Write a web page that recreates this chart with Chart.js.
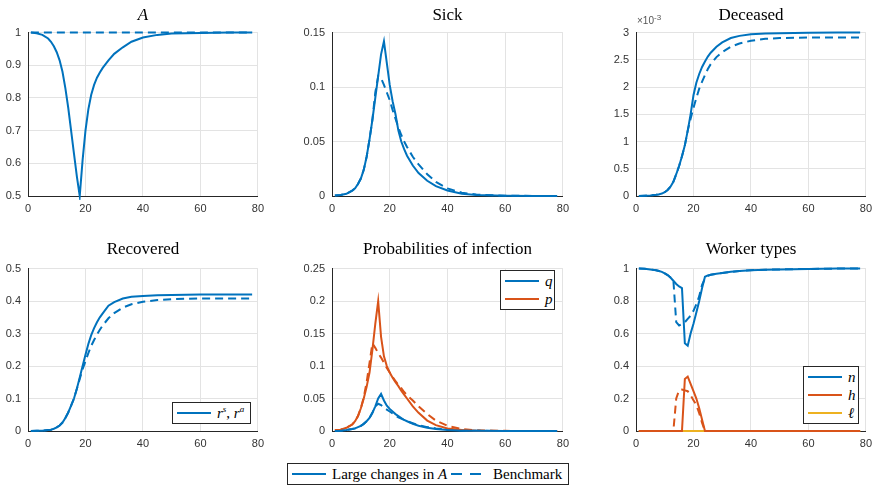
<!DOCTYPE html>
<html>
<head>
<meta charset="utf-8">
<script src="https://cdn.jsdelivr.net/npm/chart.js@4.4.0/dist/chart.umd.min.js"></script>
<style>
  body { margin: 0; width: 873px; height: 485px; background: #fff; position: relative; overflow: hidden; font-family: 'Liberation Serif', serif; }
  canvas { position: absolute; }
  .title { position: absolute; font-size: 17px; white-space: nowrap; transform: translate(-50%, -50%); color: #000; }
  .legend { position: absolute; border: 1px solid #262626; background: #fff; font-size: 15px; box-sizing: border-box; padding: 1px 4px; }
  .entry { display: flex; align-items: center; height: 18px; white-space: nowrap; }
  .swatch { width: 34px; height: 2px; margin-right: 6px; flex: none; }
  .exp { position: absolute; font-family: 'Liberation Sans', sans-serif; font-size: 10px; color: #555; }
</style>
</head>
<body>
<script>
// days shown on the x axis
const days = [1, 3, 5, 7, 8, 9, 10, 11, 12, 13, 14, 15, 16, 17, 18, 19, 20, 21, 22, 23, 24, 25, 26, 28, 30, 33, 36, 40, 45, 50, 60, 70, 78];
const xTicks = [0, 20, 40, 60, 80];

// A
const aLarge = [1.0, 0.998, 0.993, 0.982, 0.972, 0.958, 0.94, 0.915, 0.88, 0.83, 0.77, 0.70, 0.63, 0.56, 0.5, 0.61, 0.70, 0.765, 0.81, 0.84, 0.862, 0.878, 0.892, 0.915, 0.935, 0.955, 0.972, 0.985, 0.993, 0.997, 0.999, 1.0, 1.0];
const aBench = [1, 1, 1, 1, 1, 1, 1, 1, 1, 1, 1, 1, 1, 1, 1, 1, 1, 1, 1, 1, 1, 1, 1, 1, 1, 1, 1, 1, 1, 1, 1, 1, 1];
const aTicks = [0.5, 0.6, 0.7, 0.8, 0.9, 1];

// Sick
const sickLarge = [0.0005, 0.001, 0.002, 0.005, 0.007, 0.011, 0.016, 0.024, 0.036, 0.052, 0.07, 0.09, 0.11, 0.13, 0.142, 0.122, 0.102, 0.087, 0.075, 0.06, 0.05, 0.043, 0.037, 0.028, 0.021, 0.014, 0.009, 0.005, 0.002, 0.001, 0.0003, 0.0001, 0];
const sickBench = [0.0005, 0.001, 0.002, 0.005, 0.007, 0.011, 0.016, 0.024, 0.036, 0.052, 0.07, 0.095, 0.11, 0.108, 0.102, 0.095, 0.088, 0.079, 0.071, 0.063, 0.056, 0.05, 0.045, 0.036, 0.029, 0.02, 0.013, 0.007, 0.003, 0.0013, 0.0003, 0.0001, 0];
const sickTicks = [0, 0.05, 0.1, 0.15];

// Deceased (units of 1e-3)
const decLarge = [0, 0.005, 0.01, 0.022, 0.03, 0.045, 0.07, 0.11, 0.17, 0.26, 0.4, 0.55, 0.73, 0.93, 1.2, 1.5, 1.85, 2.08, 2.24, 2.37, 2.47, 2.56, 2.63, 2.74, 2.82, 2.9, 2.94, 2.97, 2.985, 2.99, 2.995, 3.0, 3.0];
const decBench = [0, 0.005, 0.01, 0.022, 0.03, 0.045, 0.07, 0.11, 0.17, 0.26, 0.4, 0.55, 0.73, 0.93, 1.2, 1.42, 1.62, 1.8, 1.97, 2.1, 2.22, 2.33, 2.42, 2.55, 2.64, 2.74, 2.8, 2.85, 2.885, 2.9, 2.91, 2.91, 2.91];
const decTicks = [0, 0.5, 1, 1.5, 2, 2.5, 3];

// Recovered
const recLarge = [0, 0.0005, 0.001, 0.003, 0.004, 0.007, 0.011, 0.017, 0.026, 0.04, 0.057, 0.078, 0.1, 0.13, 0.165, 0.2, 0.235, 0.268, 0.295, 0.317, 0.335, 0.35, 0.362, 0.386, 0.397, 0.408, 0.413, 0.416, 0.418, 0.419, 0.42, 0.42, 0.42];
const recBench = [0, 0.0005, 0.001, 0.003, 0.004, 0.007, 0.011, 0.017, 0.026, 0.04, 0.057, 0.078, 0.1, 0.13, 0.16, 0.19, 0.215, 0.24, 0.262, 0.28, 0.297, 0.312, 0.325, 0.347, 0.363, 0.38, 0.39, 0.398, 0.403, 0.406, 0.408, 0.408, 0.408];
const recTicks = [0, 0.1, 0.2, 0.3, 0.4, 0.5];

// Probabilities of infection
const qLarge = [0, 0.0005, 0.0015, 0.003, 0.004, 0.006, 0.008, 0.011, 0.015, 0.02, 0.028, 0.038, 0.05, 0.057, 0.047, 0.039, 0.034, 0.03, 0.026, 0.023, 0.02, 0.017, 0.015, 0.011, 0.008, 0.005, 0.003, 0.0015, 0.0005, 0.0002, 0, 0, 0];
const qBench = [0, 0.0005, 0.0015, 0.003, 0.004, 0.006, 0.008, 0.011, 0.015, 0.02, 0.028, 0.038, 0.042, 0.04, 0.036, 0.033, 0.03, 0.027, 0.024, 0.021, 0.019, 0.017, 0.015, 0.012, 0.009, 0.006, 0.004, 0.002, 0.001, 0.0003, 0, 0, 0];
const pLarge = [0.001, 0.002, 0.005, 0.01, 0.015, 0.023, 0.035, 0.05, 0.068, 0.09, 0.125, 0.165, 0.2, 0.145, 0.115, 0.1, 0.09, 0.082, 0.075, 0.069, 0.062, 0.056, 0.05, 0.038, 0.028, 0.016, 0.009, 0.004, 0.0015, 0.0005, 0.0001, 0, 0];
const pBench = [0.001, 0.002, 0.005, 0.01, 0.015, 0.023, 0.035, 0.052, 0.075, 0.105, 0.135, 0.128, 0.12, 0.113, 0.105, 0.097, 0.09, 0.083, 0.077, 0.071, 0.066, 0.06, 0.055, 0.047, 0.038, 0.026, 0.016, 0.008, 0.003, 0.001, 0.0002, 0, 0];
const probTicks = [0, 0.05, 0.1, 0.15, 0.2, 0.25];

// Worker types
const nLarge = [1, 0.999, 0.995, 0.99, 0.985, 0.98, 0.97, 0.96, 0.945, 0.925, 0.905, 0.89, 0.88, 0.54, 0.525, 0.6, 0.66, 0.73, 0.8, 0.88, 0.95, 0.958, 0.962, 0.968, 0.973, 0.98, 0.985, 0.99, 0.993, 0.995, 0.998, 1, 1];
const nBench = [1, 0.999, 0.995, 0.99, 0.985, 0.98, 0.97, 0.96, 0.945, 0.93, 0.67, 0.65, 0.66, 0.67, 0.69, 0.71, 0.74, 0.78, 0.83, 0.9, 0.94, 0.955, 0.962, 0.968, 0.973, 0.98, 0.985, 0.99, 0.993, 0.995, 0.998, 1, 1];
const hLarge = [0, 0, 0, 0, 0, 0, 0, 0, 0, 0, 0, 0, 0, 0.32, 0.335, 0.29, 0.245, 0.2, 0.14, 0.07, 0, 0, 0, 0, 0, 0, 0, 0, 0, 0, 0, 0, 0];
const hBench = [0, 0, 0, 0, 0, 0, 0, 0, 0, 0, 0.2, 0.25, 0.255, 0.25, 0.245, 0.22, 0.19, 0.16, 0.11, 0.05, 0, 0, 0, 0, 0, 0, 0, 0, 0, 0, 0, 0, 0];
const lLarge = [0, 0, 0, 0, 0, 0, 0, 0, 0, 0, 0, 0, 0, 0, 0, 0, 0, 0, 0, 0, 0, 0, 0, 0, 0, 0, 0, 0, 0, 0, 0, 0, 0];
const lBench = [0, 0, 0, 0, 0, 0, 0, 0, 0, 0, 0, 0, 0, 0, 0, 0, 0, 0, 0, 0, 0, 0, 0, 0, 0, 0, 0, 0, 0, 0, 0, 0, 0];
const workTicks = [0, 0.2, 0.4, 0.6, 0.8, 1];

const BLUE = '#0072BD', ORANGE = '#D95319', YELLOW = '#EDB120';
const GRID = '#e3e3e3', AXIS = '#262626', TICK_COLOR = '#333';
const DASH = [8, 5];

const Y_AXIS_W = 40, X_AXIS_H = 24, TOP_PAD = 8, RIGHT_PAD = 12;

const line = (vals, color, dashed) => ({
  data: days.map((d, i) => ({ x: d, y: vals[i] })),
  borderColor: color,
  borderWidth: 2,
  borderDash: dashed ? DASH : [],
  pointRadius: 0,
  fill: false,
  clip: 4,
});

const panels = [
  { title: '<i>A</i>', left: 28, top: 27, w: 230, h: 169, titleY: 15, ticks: aTicks,
    sets: [line(aLarge, BLUE), line(aBench, BLUE, true)] },
  { title: 'Sick', left: 332, top: 27, w: 231, h: 169, titleY: 15, ticks: sickTicks,
    sets: [line(sickLarge, BLUE), line(sickBench, BLUE, true)] },
  { title: 'Deceased', left: 636, top: 27, w: 230, h: 169, titleY: 15, ticks: decTicks,
    sets: [line(decLarge, BLUE), line(decBench, BLUE, true)] },
  { title: 'Recovered', left: 28, top: 263, w: 230, h: 168, titleY: 249, ticks: recTicks,
    sets: [line(recLarge, BLUE), line(recBench, BLUE, true)] },
  { title: 'Probabilities of infection', left: 332, top: 263, w: 231, h: 168, titleY: 249, ticks: probTicks,
    sets: [line(qLarge, BLUE), line(pLarge, ORANGE), line(qBench, BLUE, true), line(pBench, ORANGE, true)] },
  { title: 'Worker types', left: 636, top: 263, w: 230, h: 168, titleY: 249, ticks: workTicks,
    sets: [line(nLarge, BLUE), line(hLarge, ORANGE), line(lLarge, YELLOW),
           line(nBench, BLUE, true), line(hBench, ORANGE, true), line(lBench, YELLOW, true)] },
];

const tickFont = { family: "'Liberation Sans', Arial, sans-serif", size: 11 };
const fmt = (v) => String(+Number(v).toFixed(4));

panels.forEach((p) => {
  const c = document.createElement('canvas');
  c.width = p.w + Y_AXIS_W + RIGHT_PAD;
  c.height = p.h + TOP_PAD + X_AXIS_H;
  c.style.left = (p.left - Y_AXIS_W) + 'px';
  c.style.top = (p.top - TOP_PAD) + 'px';
  document.body.appendChild(c);

  const t = document.createElement('div');
  t.className = 'title';
  t.innerHTML = p.title;
  t.style.left = (p.left + p.w / 2) + 'px';
  t.style.top = p.titleY + 'px';
  document.body.appendChild(t);

  new Chart(c.getContext('2d'), {
    type: 'line',
    data: { datasets: p.sets },
    options: {
      responsive: false,
      animation: false,
      layout: { padding: { top: TOP_PAD, right: RIGHT_PAD, left: 0, bottom: 0 } },
      plugins: { legend: { display: false }, tooltip: { enabled: false } },
      elements: { line: { tension: 0 } },
      scales: {
        x: {
          type: 'linear', min: 0, max: 80,
          afterBuildTicks: (a) => { a.ticks = xTicks.map((v) => ({ value: v })); },
          afterFit: (a) => { a.height = X_AXIS_H; },
          grid: { color: GRID, drawTicks: false },
          border: { color: AXIS },
          ticks: { padding: 6, font: tickFont, color: TICK_COLOR, maxRotation: 0, callback: fmt },
        },
        y: {
          type: 'linear', min: p.ticks[0], max: p.ticks[p.ticks.length - 1],
          afterBuildTicks: (a) => { a.ticks = p.ticks.map((v) => ({ value: v })); },
          afterFit: (a) => { a.width = Y_AXIS_W; },
          grid: { color: GRID, drawTicks: false },
          border: { color: AXIS },
          ticks: { padding: 7, font: tickFont, color: TICK_COLOR, callback: fmt },
        },
      },
    },
  });
});

// exponent label on the Deceased panel
const ex = document.createElement('div');
ex.className = 'exp';
ex.innerHTML = '&times;10<sup style="font-size:8px">-3</sup>';
ex.style.left = '637px';
ex.style.top = '13px';
document.body.appendChild(ex);

// legends
const swatch = (color, dashed) => dashed
  ? `<span class="swatch" style="width:30px;margin-left:4px;margin-right:12px;background:linear-gradient(to right, ${color} 0 11px, transparent 11px 19px, ${color} 19px 30px)"></span>`
  : `<span class="swatch" style="background:${color}"></span>`;

function addLegend(x, y, w, entries, row) {
  const d = document.createElement('div');
  d.className = 'legend';
  d.style.left = x + 'px';
  d.style.top = y + 'px';
  d.style.width = w + 'px';
  if (row) d.style.display = 'flex';
  d.innerHTML = entries.map((e) =>
    `<div class="entry">${swatch(e.color, e.dashed)}<span>${e.label}</span></div>`
  ).join('');
  document.body.appendChild(d);
}

addLegend(172, 402, 79, [{ color: BLUE, label: '<i>r<sup style="font-size:9px">s</sup></i>, <i>r<sup style="font-size:9px">a</sup></i>' }]);
addLegend(500, 270, 55, [{ color: BLUE, label: '<i>q</i>' }, { color: ORANGE, label: '<i>p</i>' }]);
addLegend(803, 366, 56, [{ color: BLUE, label: '<i>n</i>' }, { color: ORANGE, label: '<i>h</i>' }, { color: YELLOW, label: '<i>&#8467;</i>' }]);
addLegend(287, 463, 282, [{ color: BLUE, label: 'Large changes in <i>A</i>' }, { color: BLUE, dashed: true, label: 'Benchmark' }], true);
</script>
</body>
</html>
